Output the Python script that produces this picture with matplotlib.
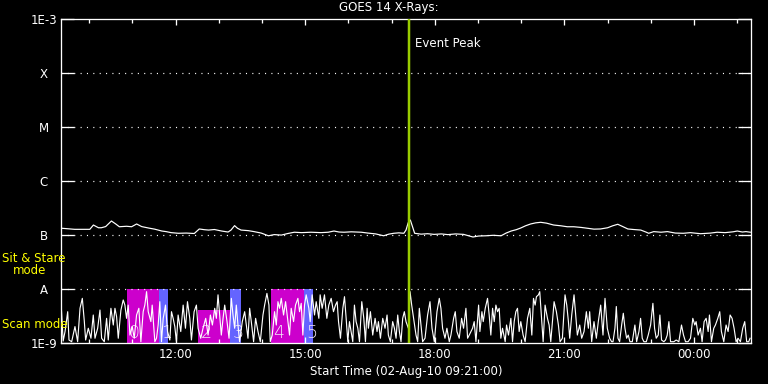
import matplotlib
matplotlib.use("Agg")
import matplotlib.pyplot as plt
import numpy as np

# ---------------- data ----------------
start_hour = 9 + 21 / 60.0          # 09:21
x_end_min = 958.0                   # minutes after start at right edge

major_hours = [12, 15, 18, 21, 24]
major_labels = ["12:00", "15:00", "18:00", "21:00", "00:00"]
minor_hours = [10, 11, 13, 14, 16, 17, 19, 20, 22, 23, 25]

ytick_vals = [1e-9, 1e-8, 1e-7, 1e-6, 1e-5, 1e-4, 1e-3]
ytick_labels = ["1E-9", "A", "B", "C", "M", "X", "1E-3"]
grid_levels = [1e-8, 1e-7, 1e-6, 1e-5, 1e-4]

event_peak_min = 483.0

# long-wavelength channel (units 1e-7 W/m^2)
hi_min = [1, 19, 40, 45, 52, 56, 62, 70, 76, 81, 91, 98, 105, 112, 122, 130, 140,
          146, 153, 163, 174, 185, 192, 199, 205, 213, 223, 232, 236, 241, 245, 250,
          260, 268, 278, 288, 296, 306, 315, 324, 334, 347, 361, 371, 379, 386, 393,
          403, 417, 426, 437, 448, 455, 462, 469, 476, 479, 482, 485, 488, 491, 500,
          509, 518, 528, 537, 548, 559, 572, 580, 590, 600, 611, 618, 625, 632, 638,
          645, 652, 659, 666, 674, 684, 694, 703, 712, 722, 731, 740, 749, 759, 766,
          773, 780, 787, 795, 805, 812, 816, 823, 833, 842, 853, 864, 874, 888, 902,
          911, 922, 933, 939, 946, 951, 957]
hi_flux = [1.35, 1.29, 1.29, 1.55, 1.38, 1.38, 1.45, 1.84, 1.62, 1.44, 1.47, 1.44,
           1.62, 1.45, 1.36, 1.30, 1.20, 1.17, 1.12, 1.09, 1.10, 1.08, 1.31, 1.27,
           1.25, 1.28, 1.20, 1.15, 1.25, 1.51, 1.35, 1.25, 1.22, 1.17, 1.10, 0.98,
           1.03, 1.01, 1.08, 1.14, 1.12, 1.14, 1.12, 1.14, 1.20, 1.15, 1.14, 1.16,
           1.14, 1.10, 1.06, 0.98, 1.05, 1.09, 1.11, 1.09, 1.25, 1.70, 1.92, 1.45,
           1.09, 1.05, 1.07, 1.04, 1.06, 1.03, 1.06, 1.04, 0.93, 0.97, 0.98, 1.00,
           0.98, 1.10, 1.20, 1.27, 1.36, 1.50, 1.62, 1.70, 1.74, 1.68, 1.55, 1.50,
           1.44, 1.44, 1.40, 1.35, 1.30, 1.31, 1.38, 1.50, 1.60, 1.45, 1.31, 1.28,
           1.25, 1.15, 1.09, 1.17, 1.14, 1.17, 1.10, 1.09, 1.12, 1.07, 1.10, 1.14,
           1.12, 1.16, 1.20, 1.15, 1.17, 1.14]

# short-wavelength channel (units 1e-9 W/m^2)
lo_min = [0, 3, 5.6, 9.3, 11.1, 14.8, 19.4, 23.1, 26.4, 29.6, 32.4, 34.2, 37.9, 41.6,
          44.8, 47.2, 50.9, 54.1, 56.4, 60.1, 63.3, 65.6, 69.3, 72.6, 74.9, 77.2, 79.5,
          83.2, 86.4, 88.7, 91.0, 93.3, 95.7, 98.9, 101.7, 104.9, 108.1, 110.9, 114.1,
          116.4, 118.8, 121.1, 124.8, 126.6, 130.3, 132.6, 134.9, 137.2, 139.5, 141.9,
          145.1, 147.9, 151.1, 153.4, 155.7, 158.0, 160.3, 162.6, 166.3, 169.6, 172.8,
          175.6, 178.8, 181.1, 184.8, 188.0, 190.3, 194.0,
          197.2, 200.9, 204.2, 207.4, 210.2, 213.4, 215.7, 218.0, 220.3, 222.6, 225.0,
          227.3, 230.5, 233.3, 236.5, 238.8, 241.1, 243.4, 245.7, 248.0, 251.7, 255.0,
          257.3, 259.6, 261.9, 264.2, 267.4, 270.2, 273.5, 276.7, 280.4, 282.7, 285.9,
          288.7, 290.5, 293.3, 296.5, 298.9, 301.2, 303.5, 305.8, 309.0, 311.8, 315.0,
          317.3, 319.6, 322.9, 325.6, 328.9, 331.2, 333.5, 335.8, 338.1, 340.4, 344.1,
          346.0, 348.7, 352.0, 354.3, 358.0, 359.8, 362.6, 365.8, 369.1, 371.8, 375.1,
          378.3, 381.1,
          383.4, 385.3, 388.0, 391.3, 393.6, 395.9, 398.2, 400.5, 402.8, 405.1, 407.4,
          409.7, 412.1, 414.4, 417.6, 420.4, 422.7, 425.0, 426.8, 429.6, 432.8, 436.1,
          438.8, 440.7, 443.5, 446.7, 449.9, 452.7, 454.5, 457.3, 460.5, 462.9, 465.2,
          467.5, 469.8, 472.1, 474.4, 476.7, 479.0, 482.3, 484.6, 486.9, 489.6, 492.9,
          495.2, 497.5, 499.8, 502.1, 505.4, 509.0, 512.3, 515.1, 518.3, 522.0, 525.2,
          527.5, 529.8, 533.1, 535.8, 539.1, 541.4, 545.1, 547.4, 549.7, 552.9, 556.2,
          558.9, 562.2, 564.5, 566.8,
          571.4, 573.7, 576.1, 579.8, 581.6, 584.4, 586.2, 589.0, 592.2, 594.5, 596.8,
          599.2, 601.5, 603.8, 606.1, 608.4, 610.7, 613.0, 616.7, 618.6, 621.3, 624.6,
          626.9, 629.2, 631.5, 633.8, 636.1, 638.4, 641.6, 644.4, 647.7, 650.9, 653.7,
          656.0, 658.3, 660.1, 662.9, 664.7, 667.5, 669.4, 672.1, 675.4, 677.7, 680.0,
          682.3, 684.6, 687.8, 690.6, 692.9, 696.1, 699.8, 702.2, 704.5, 706.3, 709.1,
          712.3, 714.6, 716.9, 720.2, 722.9, 726.2, 729.4, 732.2, 734.0, 736.8, 740.0,
          743.3, 746.0, 749.3, 752.5, 755.3, 758.5, 761.7,
          764.5, 766.4, 769.1, 771.0, 773.3, 775.6, 778.4, 780.7, 783.0, 785.3, 787.6,
          789.9, 793.2, 796.8, 799.2, 802.4, 804.7, 807.0, 809.3, 812.6, 815.3, 818.6,
          821.8, 824.1, 826.4, 829.2, 831.5, 833.8, 837.0, 839.3, 841.7, 844.0, 846.3,
          850.9, 854.1, 857.8, 861.5, 864.3, 867.1, 870.7, 874.0, 877.2, 880.0, 881.8,
          884.6, 887.8, 890.1, 892.9, 895.7, 898.5, 900.3, 903.1, 906.3, 908.6, 911.9,
          914.6, 916.9, 920.2, 923.4, 926.2, 929.0, 931.7, 934.5, 937.3, 940.0, 943.3,
          946.5, 949.3, 952.0, 954.8, 956.7]
lo_flux = [5.9, 1.1, 1.65, 3.85, 1.15, 1.07, 2.04, 1.07, 4.45, 6.8, 2.52, 1.15, 1.9, 1.24,
           3.34, 1.24, 1.9, 4.13, 1.24, 1.07, 2.9, 1.15, 4.45, 2.18, 4.45, 3.1, 1.24,
           4.13, 6.35, 5.1, 2.9, 5.1, 1.42, 2.04, 1.24, 3.34, 4.45, 1.07, 3.85,
           5.1, 9.05, 3.85, 2.52, 5.1, 1.07, 1.24, 2.18, 5.9, 1.07, 2.9,
           5.1, 1.65, 1.15, 3.85, 2.9, 2.04, 1.07, 3.34, 1.65, 5.1, 1.9,
           5.9, 2.9, 1.15, 3.85, 5.1, 1.9, 1.24,
           1.9, 2.9, 1.42, 3.34, 2.18, 4.45, 2.9, 7.9, 3.34, 1.42, 2.9,
           5.1, 2.52, 1.24, 6.8, 3.34, 1.9, 5.1, 2.18, 1.07, 2.52, 3.85,
           2.18, 1.24, 4.45, 2.52, 1.07, 2.9, 1.65, 1.07, 3.34, 5.1, 8.4,
           5.1, 1.07, 1.42, 3.85, 2.18, 5.9, 4.45, 6.8, 3.34, 5.9, 2.52,
           1.42, 4.45, 2.52, 5.1, 6.8, 3.85, 5.5, 1.42, 5.1, 7.9, 4.45,
           2.52, 7.9, 3.34, 5.9, 2.9, 7.9, 4.45, 7.9, 2.9, 5.1, 6.8,
           3.85, 5.1,
           5.9, 2.52, 1.24, 4.45, 7.3, 2.9, 1.07, 2.52, 1.65, 1.07, 5.1,
           2.52, 1.9, 1.07, 5.9, 2.9, 1.07, 4.45, 1.9, 3.85, 1.42, 2.9,
           1.65, 2.52, 1.24, 2.9, 1.9, 3.34, 1.42, 1.07, 2.52, 1.9, 1.24,
           3.34, 1.65, 1.07, 2.9, 3.85, 2.52, 1.9, 9.05, 5.1, 2.9, 1.42,
           1.07, 4.45, 2.18, 1.07, 1.24, 3.34, 5.9, 1.9, 1.07, 3.85, 6.8,
           4.45, 1.9, 1.24, 1.9, 1.07, 1.42, 2.9, 3.85, 1.65, 1.24, 2.9,
           1.9, 4.45, 1.24, 1.42,
           1.9, 2.52, 1.07, 5.1, 1.65, 3.85, 2.52, 4.45, 6.8, 3.34, 1.42,
           4.45, 2.52, 5.1, 3.85, 4.45, 1.24, 1.9, 1.07, 2.18, 1.42, 2.9,
           1.07, 2.52, 3.85, 4.45, 1.65, 2.52, 1.42, 1.07, 2.9, 4.45, 1.42,
           6.8, 5.1, 7.3, 7.9, 9.05, 2.52, 1.07, 5.1, 2.9, 2.18, 1.07,
           2.52, 5.9, 3.85, 2.18, 1.07, 1.24, 7.9, 5.1, 2.52, 1.24, 3.34,
           7.9, 3.34, 1.42, 2.18, 1.24, 1.65, 3.85, 1.9, 3.85, 1.07, 2.52,
           1.24, 2.52, 5.1, 1.42, 6.8, 1.9, 1.24,
           1.07, 1.07, 1.9, 4.8, 1.24, 1.07, 2.18, 3.6, 1.9, 1.24, 1.42,
           1.07, 1.07, 2.18, 1.07, 1.65, 2.9, 1.24, 1.07, 1.07, 1.42, 2.18,
           5.5, 1.9, 1.24, 1.42, 3.34, 1.15, 1.07, 1.15, 1.42, 2.52, 1.07,
           1.07, 1.15, 1.07, 2.18, 1.42, 1.07, 1.07, 1.24, 2.9, 2.18, 2.52,
           1.42, 1.9, 1.07, 2.52, 2.9, 1.65, 3.34, 1.07, 1.9, 2.18, 2.9,
           3.85, 1.65, 1.07, 2.18, 1.65, 3.34, 2.9, 1.9, 1.07, 1.24, 1.07,
           1.9, 2.52, 1.07, 1.07, 1.24]

# observing-mode boxes (minutes after start, top in 1e-9 W/m^2)
box_start = [91.0, 136.4, 190.8, 235.2, 292.0, 337.7]
box_end = [136.4, 148.8, 235.2, 250.4, 337.7, 350.2]
box_top = [10.0, 10.0, 4.1, 10.0, 10.0, 10.0]
box_color = ["#cc00cc", "#6464ff", "#cc00cc", "#6464ff", "#cc00cc", "#6464ff"]
box_label = ["0", "1", "2", "3", "4", "5"]

# ---------------- plotting ----------------
W, H = 768, 384
fig = plt.figure(figsize=(W / 100, H / 100), dpi=100, facecolor="black")
L, R, T, B = 61, 751, 19.3, 343.3
ax = fig.add_axes([L / W, (H - B) / H, (R - L) / W, (B - T) / H], facecolor="black")
ax.set_yscale("log")
ax.set_ylim(1e-9, 1e-3)
ax.set_xlim(0, x_end_min)

px = 0.72  # one pixel in points
fs = 8.5

# boxes
for s, e, t, c in zip(box_start, box_end, box_top, box_color):
    ax.bar(s, t * 1e-9 - 1e-9, bottom=1e-9, width=e - s, align="edge",
           color=c, linewidth=0, zorder=1)
for s, lab in zip(box_start, box_label):
    ax.text(s + 3, 1.07e-9, lab, color="#f4e8f8", fontsize=12.5, ha="left",
            va="bottom", zorder=2, fontweight="light")

# grid lines
for g in grid_levels:
    ax.axhline(g, color="white", linewidth=px * 1.2, linestyle=(0, (0.9, 4.4)), zorder=1.5)

# curves
ax.plot(np.array(hi_min), np.array(hi_flux) * 1e-7, color="white",
        linewidth=px * 1.2, zorder=3)
ax.plot(np.array(lo_min), np.array(lo_flux) * 1e-9, color="white",
        linewidth=px * 1.15, zorder=3)

# event peak
ax.axvline(event_peak_min, color="#99cc00", linewidth=px * 2.5, zorder=4)
ax.text(event_peak_min + 9, 3.5e-4, "Event Peak", color="white", fontsize=fs,
        ha="left", va="center")

# axes styling
for sp in ax.spines.values():
    sp.set_color("white")
    sp.set_linewidth(px * 1.3)

ax.set_xticks([(h - start_hour) * 60 for h in major_hours])
ax.set_xticklabels(major_labels)
ax.set_xticks([(h - start_hour) * 60 for h in minor_hours], minor=True)
ax.tick_params(axis="x", which="major", direction="in", length=6 * px, width=px * 1.3,
               colors="white", labelsize=fs, top=True, bottom=True, pad=5 * px)
ax.tick_params(axis="x", which="minor", direction="in", length=4 * px, width=px * 1.3,
               colors="white", top=True, bottom=True)

ax.set_yticks(ytick_vals)
ax.set_yticklabels(ytick_labels)
ax.yaxis.set_minor_locator(matplotlib.ticker.NullLocator())
ax.tick_params(axis="y", which="major", direction="in", length=13 * px, width=px * 1.3,
               colors="white", labelsize=fs, left=True, right=True, pad=17 * px)
for lab in ax.get_yticklabels():
    lab.set_horizontalalignment("center")

ax.set_xlabel("Start Time (02-Aug-10 09:21:00)", color="white", fontsize=fs,
              labelpad=4 * px)

fig.text(389 / W, 1 - 8 / H, "GOES 14 X-Rays:", color="white", fontsize=fs,
         ha="center", va="center")
fig.text(2 / W, 1 - 258 / H, "Sit & Stare", color="yellow", fontsize=fs,
         ha="left", va="center")
fig.text(13 / W, 1 - 271 / H, "mode", color="yellow", fontsize=fs,
         ha="left", va="center")
fig.text(2 / W, 1 - 324 / H, "Scan mode", color="yellow", fontsize=fs,
         ha="left", va="center")

fig.savefig("out.png", dpi=100, facecolor="black")
